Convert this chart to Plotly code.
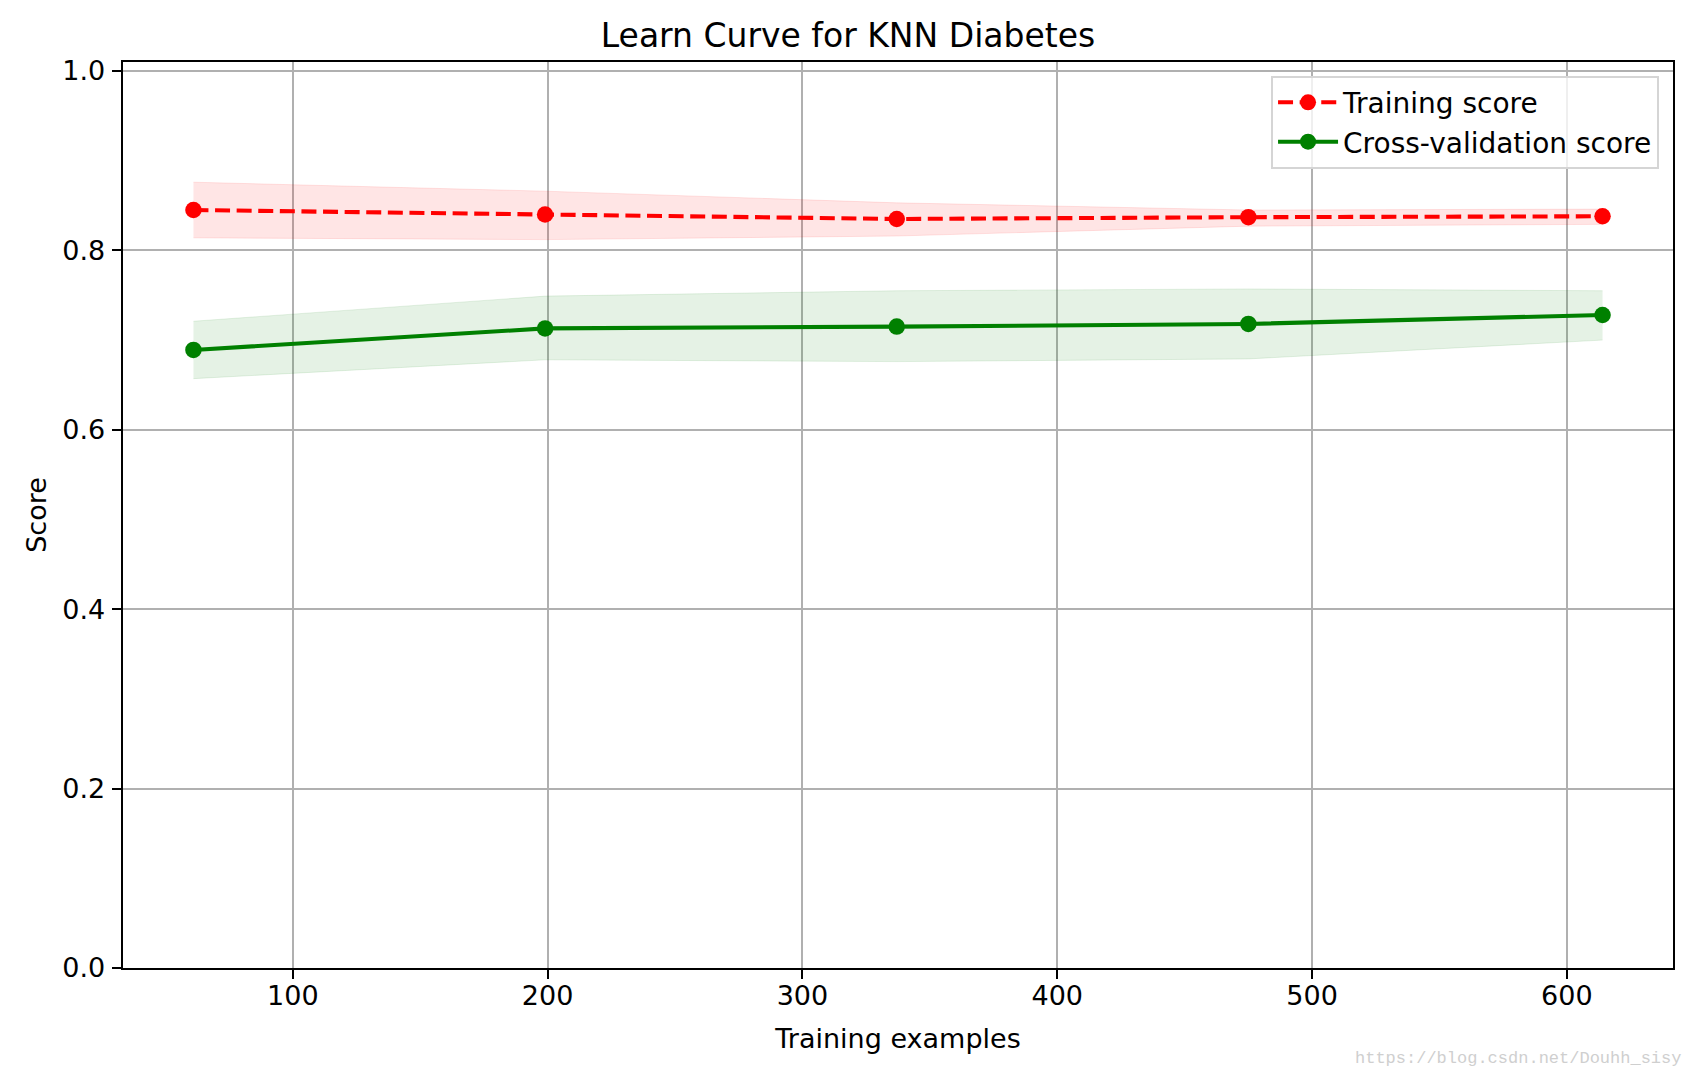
import plotly.graph_objects as go

# ---- data ----
train_sizes = [61, 199, 337, 475, 614]
train_mean = [0.845, 0.840, 0.835, 0.837, 0.838]
train_upper = [0.876, 0.866, 0.853, 0.845, 0.846]
train_lower = [0.814, 0.812, 0.816, 0.827, 0.829]
cv_mean = [0.689, 0.713, 0.715, 0.718, 0.728]
cv_upper = [0.721, 0.749, 0.755, 0.757, 0.755]
cv_lower = [0.657, 0.678, 0.676, 0.679, 0.700]

title_text = "Learn Curve for KNN Diabetes"
x_title = "Training examples"
y_title = "Score"
y_ticks = [0.0, 0.2, 0.4, 0.6, 0.8, 1.0]
x_ticks = [100, 200, 300, 400, 500, 600]
watermark = "https://blog.csdn.net/Douhh_sisy"

FONT = "DejaVu Sans"
fig = go.Figure()

# bands
fig.add_trace(go.Scatter(x=train_sizes, y=train_upper, mode="lines",
                         line=dict(color="rgba(255,0,0,0.1)", width=1),
                         showlegend=False, hoverinfo="skip"))
fig.add_trace(go.Scatter(x=train_sizes, y=train_lower, mode="lines", fill="tonexty",
                         fillcolor="rgba(255,0,0,0.1)",
                         line=dict(color="rgba(255,0,0,0.1)", width=1),
                         showlegend=False, hoverinfo="skip"))
fig.add_trace(go.Scatter(x=train_sizes, y=cv_upper, mode="lines",
                         line=dict(color="rgba(0,128,0,0.1)", width=1),
                         showlegend=False, hoverinfo="skip"))
fig.add_trace(go.Scatter(x=train_sizes, y=cv_lower, mode="lines", fill="tonexty",
                         fillcolor="rgba(0,128,0,0.1)",
                         line=dict(color="rgba(0,128,0,0.1)", width=1),
                         showlegend=False, hoverinfo="skip"))

# lines
fig.add_trace(go.Scatter(x=train_sizes, y=train_mean, mode="lines+markers",
                         name="Training score", legendgroup="a",
                         line=dict(color="#ff0000", width=4.1, dash="15px,6.6px"),
                         marker=dict(color="#ff0000", size=16.5)))
fig.add_trace(go.Scatter(x=train_sizes, y=cv_mean, mode="lines+markers",
                         name="Cross-validation score", legendgroup="b",
                         line=dict(color="#008000", width=4.1),
                         marker=dict(color="#008000", size=16.5)))

axis_common = dict(
    showline=True, linecolor="black", linewidth=2.2, mirror=True,
    showgrid=True, gridcolor="#b0b0b0", gridwidth=2.2,
    ticks="outside", ticklen=9.3, tickwidth=2.2, tickcolor="black",
    tickfont=dict(family=FONT, size=27, color="black"),
    zeroline=False,
)

fig.update_layout(
    width=1696, height=1075,
    margin=dict(l=123, r=23, t=62, b=107),
    paper_bgcolor="white", plot_bgcolor="white",
    title=dict(text=title_text, x=0.5, xanchor="center", y=1 - 35 / 1075,
               yanchor="middle", yref="container",
               font=dict(family=FONT, size=33, color="black")),
    xaxis=dict(axis_common, range=[33.35, 641.65], tickvals=x_ticks,
               ticklabelstandoff=-7,
               title=dict(text=x_title, font=dict(family=FONT, size=27, color="black"),
                          standoff=19)),
    yaxis=dict(axis_common, range=[0, 1.01], tickvals=y_ticks, tickformat=".1f",
               ticklabelstandoff=1,
               title=dict(text=y_title, font=dict(family=FONT, size=27, color="black"),
                          standoff=8)),
    legend=dict(x=0.991, xanchor="right", y=0.985, yanchor="top",
                bgcolor="rgba(255,255,255,0.8)", bordercolor="#d5d5d5", borderwidth=2,
                font=dict(family=FONT, size=28, color="black"),
                traceorder="normal", tracegroupgap=9,
                itemwidth=60),
    showlegend=True,
)

fig.add_annotation(text=watermark, xref="paper", yref="paper",
                   x=1.0065, y=-0.100, xanchor="right", yanchor="middle",
                   showarrow=False,
                   font=dict(family="Liberation Mono", size=17, color="#cfcfcf"))

fig.write_html("out.html", config={"displayModeBar": False},
               post_script="document.body.style.margin='0';document.body.style.overflow='hidden';")
